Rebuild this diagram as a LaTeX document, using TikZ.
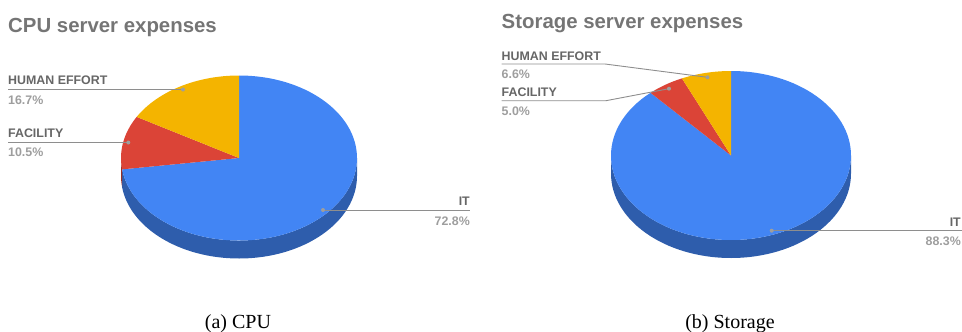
\documentclass[tikz,border=0pt]{standalone}
\usepackage{fontspec}
\setmainfont{Liberation Serif}
\setsansfont{Liberation Sans}
\usetikzlibrary{calc}
\definecolor{itblue}{HTML}{4285F4}
\definecolor{itside}{HTML}{2E5DAC}
\definecolor{facred}{HTML}{DB4437}
\definecolor{facside}{HTML}{9A3027}
\definecolor{humyel}{HTML}{F4B400}
\definecolor{titlegray}{HTML}{757575}
\definecolor{namegray}{HTML}{666666}
\definecolor{pctgray}{HTML}{9E9E9E}
\definecolor{leadgray}{HTML}{8E8E8E}
\tikzset{
    charttitle/.style={anchor=base west,inner sep=0,text=titlegray,
        font=\sffamily\bfseries\fontsize{20.4}{22}\selectfont},
    slicename/.style={inner sep=0,text=namegray,
        font=\sffamily\bfseries\fontsize{12.4}{14}\selectfont},
    slicepct/.style={inner sep=0,text=pctgray,
        font=\sffamily\bfseries\fontsize{12.4}{14}\selectfont},
    leader/.style={draw=leadgray,line width=0.9pt},
    leaderdot/.style={fill=pctgray},
    subcap/.style={anchor=base,inner sep=0,font=\fontsize{20}{22}\selectfont}
}
\begin{document}
\begin{tikzpicture}[x=1pt,y=1pt]

    \useasboundingbox (0,0) rectangle (962,-332);

    % Pastel CPU: pared lateral
    \coordinate (cpu) at (239,-158);
    \foreach \a/\b/\col in {-172.08/0/itside, -180/-172.08/facside}{
        \fill[\col] ($(cpu)+(\a:118 and 82.5)$)
            arc[start angle=\a,end angle=\b,x radius=118,y radius=82.5]
            -- ++(0,-18)
            arc[start angle=\b,end angle=\a,x radius=118,y radius=82.5] -- cycle;
    }

    % Pastel CPU: sectores
    \foreach \a/\b/\col in {90/-172.08/itblue, -172.08/-209.88/facred,
        -209.88/-270/humyel}{
        \fill[\col] (cpu) -- ++(\a:118 and 82.5)
            arc[start angle=\a,end angle=\b,x radius=118,y radius=82.5] -- cycle;
    }

    % Pastel Storage: pared lateral
    \coordinate (sto) at (731,-155.5);
    \fill[itside] ($(sto)+(-180:120 and 84.5)$)
        arc[start angle=-180,end angle=0,x radius=120,y radius=84.5]
        -- ++(0,-18)
        arc[start angle=0,end angle=-180,x radius=120,y radius=84.5] -- cycle;

    % Pastel Storage: sectores
    \foreach \a/\b/\col in {90/-227.88/itblue, -227.88/-245.88/facred,
        -245.88/-270/humyel}{
        \fill[\col] (sto) -- ++(\a:120 and 84.5)
            arc[start angle=\a,end angle=\b,x radius=120,y radius=84.5] -- cycle;
    }

    % Titulos
    \node[charttitle] (cpu-title) at (8,-32.3) {CPU server expenses};
    \node[charttitle] (sto-title) at (501.5,-28.3) {Storage server expenses};

    % Etiquetas CPU
    \node[slicename,anchor=base west] (cpu-hum) at (8,-84.7) {HUMAN EFFORT};
    \node[slicepct,anchor=base west] (cpu-hum-pct) at (8,-104.7) {16.7\%};
    \node[slicename,anchor=base west] (cpu-fac) at (8,-137.7) {FACILITY};
    \node[slicepct,anchor=base west] (cpu-fac-pct) at (8,-156.3) {10.5\%};
    \node[slicename,anchor=base east] (cpu-it) at (470,-205) {IT};
    \node[slicepct,anchor=base east] (cpu-it-pct) at (470,-225) {72.8\%};

    \coordinate (cpu-hum-l) at (8,-89.5);
    \coordinate (cpu-hum-dot) at (183,-89.5);
    \coordinate (cpu-fac-l) at (8,-142.5);
    \coordinate (cpu-fac-dot) at (128.3,-142.5);
    \coordinate (cpu-it-dot) at (323,-210);
    \coordinate (cpu-it-r) at (470,-210);
    \draw[leader] (cpu-hum-l) -- (cpu-hum-dot);
    \draw[leader] (cpu-fac-l) -- (cpu-fac-dot);
    \draw[leader] (cpu-it-dot) -- (cpu-it-r);
    \foreach \p in {cpu-hum-dot,cpu-fac-dot,cpu-it-dot}
        \fill[leaderdot] (\p) circle (2);

    % Etiquetas Storage
    \node[slicename,anchor=base west] (sto-hum) at (501.5,-60) {HUMAN EFFORT};
    \node[slicepct,anchor=base west] (sto-hum-pct) at (501.5,-78.7) {6.6\%};
    \node[slicename,anchor=base west] (sto-fac) at (501.5,-96.7) {FACILITY};
    \node[slicepct,anchor=base west] (sto-fac-pct) at (501.5,-115.3) {5.0\%};
    \node[slicename,anchor=base east] (sto-it) at (961,-226) {IT};
    \node[slicepct,anchor=base east] (sto-it-pct) at (961,-245.3) {88.3\%};

    \coordinate (sto-hum-l) at (501.5,-64);
    \coordinate (sto-hum-k) at (605,-64);
    \coordinate (sto-hum-dot) at (707.5,-77.3);
    \coordinate (sto-fac-l) at (501.5,-100.7);
    \coordinate (sto-fac-k) at (606,-100.7);
    \coordinate (sto-fac-dot) at (669,-88.7);
    \coordinate (sto-it-dot) at (771.7,-230.7);
    \coordinate (sto-it-r) at (962,-230.7);
    \draw[leader] (sto-hum-l) -- (sto-hum-k) -- (sto-hum-dot);
    \draw[leader] (sto-fac-l) -- (sto-fac-k) -- (sto-fac-dot);
    \draw[leader] (sto-it-dot) -- (sto-it-r);
    \foreach \p in {sto-hum-dot,sto-fac-dot,sto-it-dot}
        \fill[leaderdot] (\p) circle (2);

    % Subtitulos
    \node[subcap] (cap-a) at (238,-328.5) {(a) CPU};
    \node[subcap] (cap-b) at (730,-328.5) {(b) Storage};

\end{tikzpicture}
\end{document}
